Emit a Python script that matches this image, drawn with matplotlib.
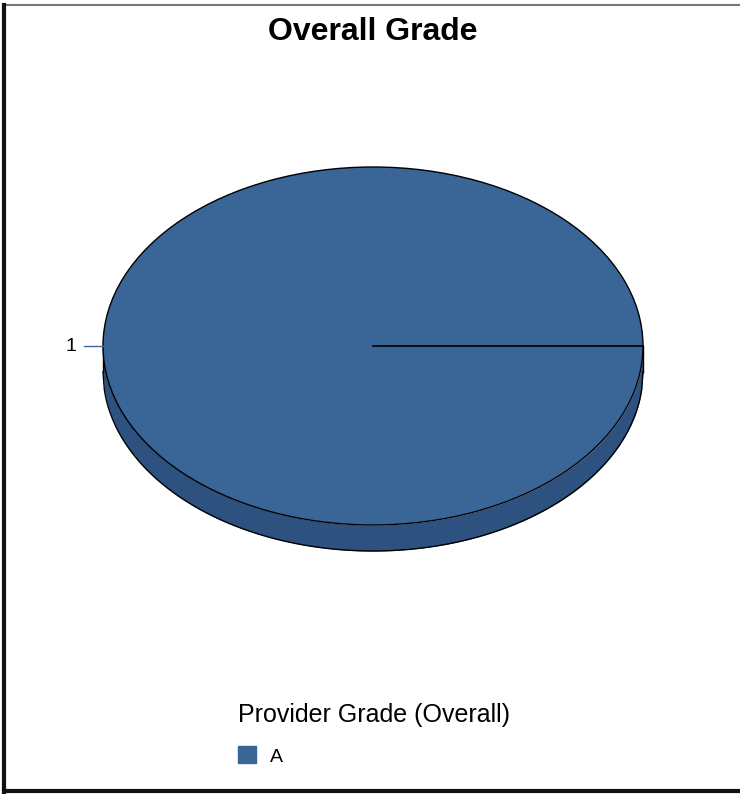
import numpy as np
import matplotlib.pyplot as plt
from matplotlib.patches import Patch

plt.rcParams["font.family"] = ["Liberation Sans", "DejaVu Sans"]

# Data
grades = ["A"]
counts = [1]
slice_labels = ["1"]
top_color = "#396597"
side_color = "#2e5280"

W, H = 740, 794
fig = plt.figure(figsize=(W / 100, H / 100), dpi=100)

# outer frame
frame = fig.add_axes([0, 0, 1, 1])
frame.set_xlim(0, W)
frame.set_ylim(H, 0)
frame.axis("off")
frame.plot([4, W], [5, 5], color="#777777", lw=1.5)
frame.plot([4, 4], [5, 792], color="#111111", lw=3)
frame.plot([4, W], [791, 791], color="#111111", lw=3)

fig.text(373 / W, 1 - 32 / H, "Overall Grade", ha="center", va="center",
         fontsize=23, fontweight="bold")

# pie axes: ellipse 103..643 x, 167..525 y, depth down to 551
cx0, cx1 = 103, 643
top, bot, depth_bot = 167, 525, 551
ry_px = (bot - top) / 2
d = (depth_bot - bot) / ry_px
ax = fig.add_axes([cx0 / W, 1 - depth_bot / H, (cx1 - cx0) / W, (depth_bot - top) / H])

# side of the 3D pie
x = np.linspace(-1, 1, 400)
lower = -np.sqrt(1 - x ** 2)
ax.fill_between(x, lower - d, lower, color=side_color, lw=0, zorder=1)
ax.plot(x, lower - d, color="black", lw=1, zorder=2, clip_on=False)
ax.plot([-1, -1], [0, -d], color="black", lw=1, zorder=2, clip_on=False)
ax.plot([1, 1], [0, -d], color="black", lw=1, zorder=2, clip_on=False)

wedges, texts = ax.pie(counts, labels=slice_labels, colors=[top_color],
                       startangle=0, labeldistance=1.1,
                       wedgeprops=dict(edgecolor="black", linewidth=1, zorder=3),
                       textprops=dict(fontsize=14))
for w in wedges:
    w.set_clip_on(False)
    a = np.deg2rad(w.theta1)
    ax.plot([0, np.cos(a)], [0, np.sin(a)], color="black", lw=1.2, zorder=4,
            clip_on=False)
for t in texts:
    t.set_va("center")
    tx, ty = t.get_position()
    ax.plot([tx + 0.028, -1.0], [ty, ty], color=top_color, lw=1, zorder=4,
            clip_on=False)
ax.set_aspect("auto")
ax.set_xlim(-1, 1)
ax.set_ylim(-1 - d, 1)
ax.axis("off")

handles = [Patch(facecolor=top_color, edgecolor=top_color) for g in grades]
leg = fig.legend(handles, grades, title="Provider Grade (Overall)",
                 loc="upper left", bbox_to_anchor=(237.5 / W, 1 - 703 / H),
                 frameon=False, fontsize=14, title_fontsize=18,
                 alignment="left", handlelength=0.95, handleheight=0.95,
                 handletextpad=0.72, borderpad=0, labelspacing=1.0,
                 borderaxespad=0)

fig.savefig("out.png", dpi=100)
